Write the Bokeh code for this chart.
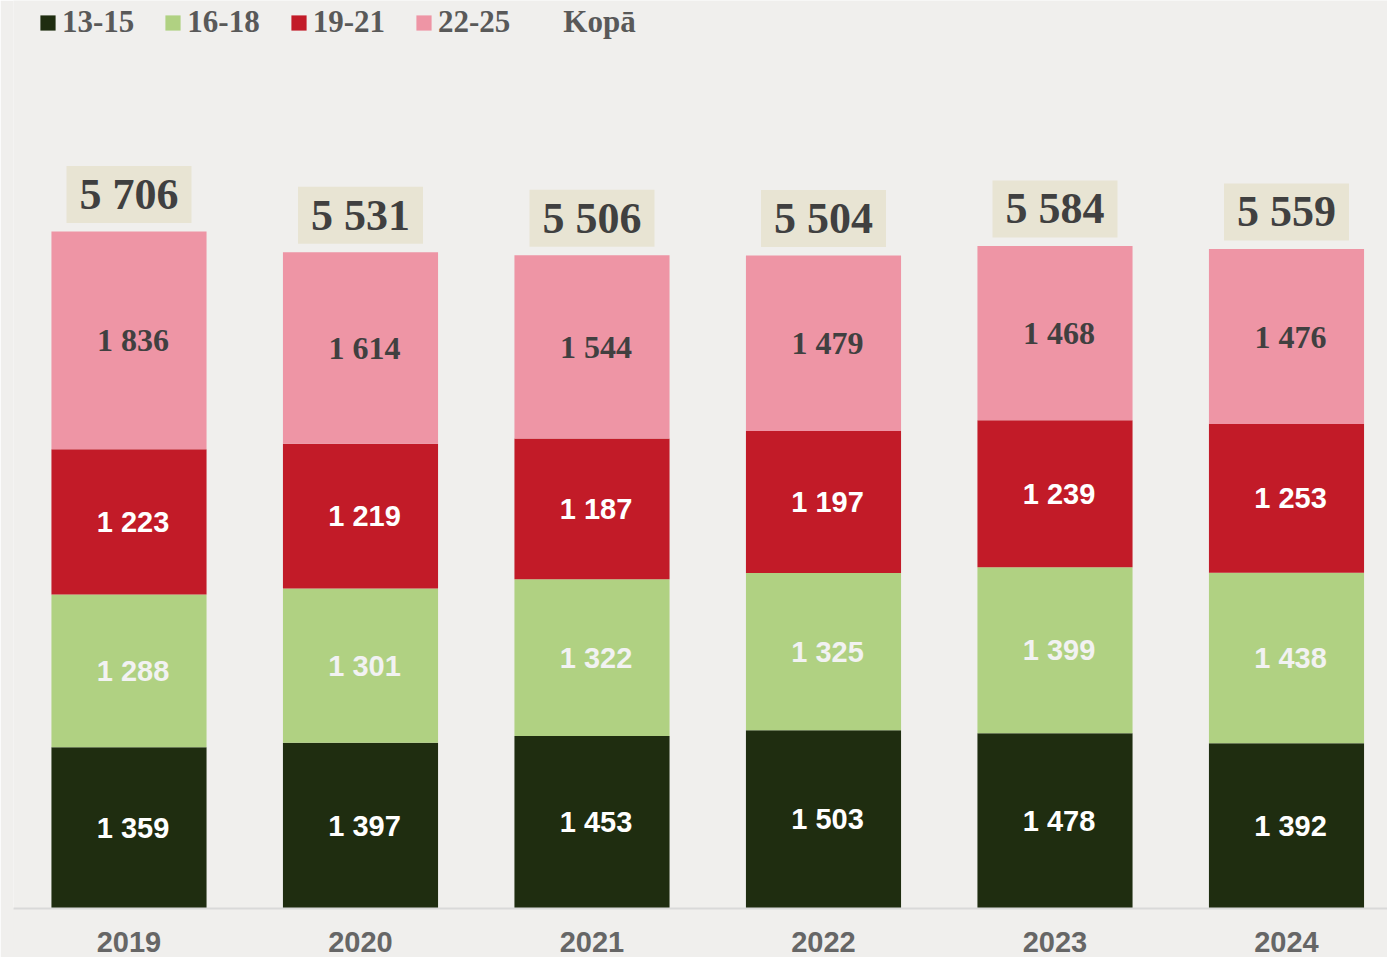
import numpy as np
from bokeh.plotting import figure
from bokeh.models import ColumnDataSource, Legend, LegendItem, Range1d, FixedTicker
from bokeh.core.properties import value
from bokeh.embed import file_html
from bokeh.resources import INLINE

years = ["2019", "2020", "2021", "2022", "2023", "2024"]
series_names = ["13-15", "16-18", "19-21", "22-25"]
age_13_15 = [1359, 1397, 1453, 1503, 1478, 1392]
age_16_18 = [1288, 1301, 1322, 1325, 1399, 1438]
age_19_21 = [1223, 1219, 1187, 1197, 1239, 1253]
age_22_25 = [1836, 1614, 1544, 1479, 1468, 1476]
totals = [5706, 5531, 5506, 5504, 5584, 5559]
total_label = "Kopā"

colors = ["#1f2d10", "#b0d182", "#c21b28", "#ee95a5"]
label_colors = ["#ffffff", "#f2f2f2", "#ffffff", "#404040"]
label_fonts = ["Liberation Sans", "Liberation Sans", "Liberation Sans", "Liberation Serif"]
label_sizes = ["29px", "29px", "29px", "32px"]

def fmt(v):
    return f"{v:,}".replace(",", " ")

series = [age_13_15, age_16_18, age_19_21, age_22_25]
xs = np.arange(len(years))

p = figure(width=1387, height=957, output_backend="svg", toolbar_location=None,
           x_range=Range1d(-0.4989, 5.4363), y_range=Range1d(0, 7653),
           min_border_left=13, min_border_right=0, min_border_top=0, min_border_bottom=49)
p.background_fill_color = "#f0efed"
p.border_fill_color = "#f0efed"
p.outline_line_color = None
p.grid.visible = False
p.yaxis.visible = False

bottom = np.zeros(len(years))
renderers = []
for i, (name, vals) in enumerate(zip(series_names, series)):
    vals = np.array(vals, dtype=float)
    top = bottom + vals
    src = ColumnDataSource(dict(x=xs, bottom=bottom, top=top, mid=(bottom + top) / 2,
                                lab=[fmt(int(v)) for v in vals]))
    r = p.vbar(x="x", bottom="bottom", top="top", width=0.67, source=src,
               fill_color=colors[i], line_color=colors[i], line_width=0)
    renderers.append(r)
    p.text(x="x", y="mid", text="lab", source=src, text_align="center", text_baseline="middle",
           x_offset=4, text_font=value(label_fonts[i]), text_font_style="bold",
           text_font_size=label_sizes[i], text_color=label_colors[i])
    bottom = top

tsrc = ColumnDataSource(dict(x=xs, y=np.array(totals, dtype=float), lab=[fmt(t) for t in totals]))
p.text(x="x", y="y", text="lab", source=tsrc, text_align="center", text_baseline="middle",
       y_offset=-37, text_font=value("Liberation Serif"), text_font_style="bold",
       text_font_size="44px", text_color="#404040",
       background_fill_color="#e8e4d3", padding=(13, 4))

dummy = p.vbar(x=[0], top=[0], width=0.0, fill_alpha=0, line_alpha=0)

items = [LegendItem(label=n, renderers=[r]) for n, r in zip(series_names, renderers)]
items.append(LegendItem(label=total_label, renderers=[dummy]))
legend = Legend(items=items, orientation="horizontal", location=(25, 868),
                label_text_font="Liberation Serif", label_text_font_style="bold",
                label_text_font_size="31px", label_text_color="#595959",
                glyph_width=19, glyph_height=19, label_standoff=5, spacing=29,
                padding=0, margin=0, background_fill_alpha=0, border_line_alpha=0)
p.add_layout(legend)

p.xaxis.ticker = FixedTicker(ticks=list(xs))
p.xaxis.major_label_overrides = {int(i): y for i, y in zip(xs, years)}
p.xaxis.axis_line_color = "#d9d9d9"
p.xaxis.axis_line_width = 2
p.xaxis.major_tick_line_color = None
p.xaxis.minor_tick_line_color = None
p.xaxis.major_label_standoff = 17
p.xaxis.major_label_text_font = "Liberation Sans"
p.xaxis.major_label_text_font_style = "bold"
p.xaxis.major_label_text_font_size = "29px"
p.xaxis.major_label_text_color = "#666666"

open("out.html", "w").write(file_html(p, INLINE))
